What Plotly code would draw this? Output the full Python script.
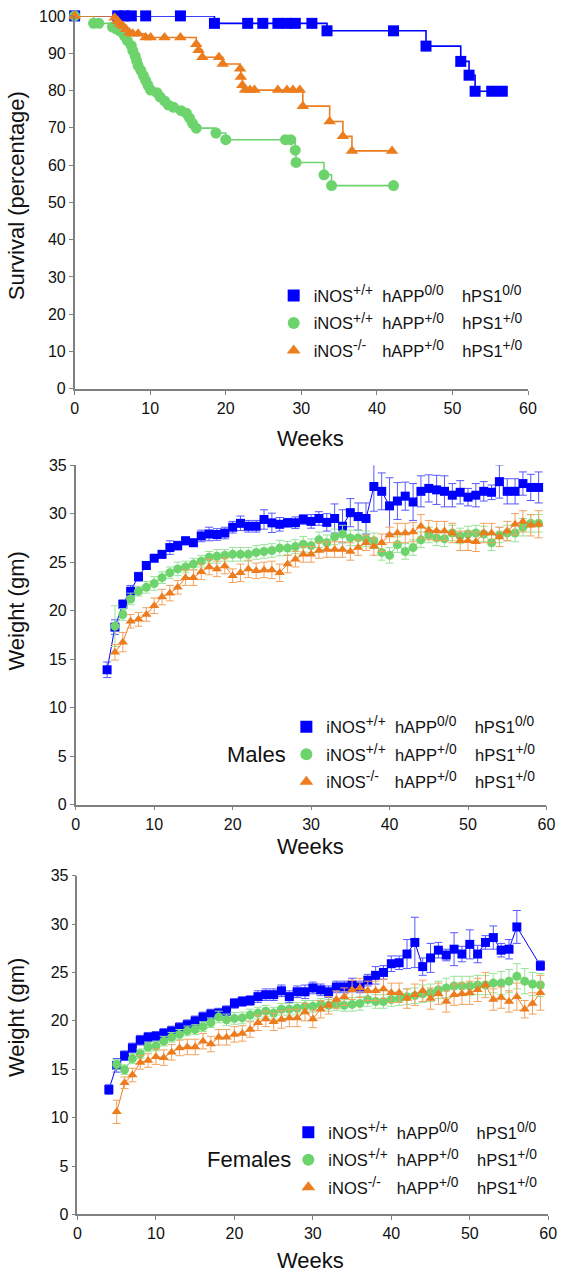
import plotly.graph_objects as go

# ------------------------------------------------------------------ data
# Panel 1: Kaplan-Meier survival (weeks, percent surviving)
surv_blue_weeks = [0, 5.7, 6.6, 7.5, 9.4, 14.0, 18.5, 22.9, 24.9, 26.9, 28.1, 29.2, 31.4,
                   33.4, 42.2, 46.5, 51.1, 52.2, 53.0, 55.2, 56.6]
surv_blue_pct = [100, 100, 100, 100, 100, 100, 98.0, 98.0, 98.0, 98.0, 98.0, 98.0, 98.0,
                 96.0, 96.0, 91.9, 87.8, 84.1, 79.8, 79.8, 79.8]

surv_green_weeks = [0, 2.5, 3.2, 5.0, 5.5, 6.0, 6.6, 7.0, 7.5, 7.7, 8.0, 8.2, 8.4, 8.75,
                    9.1, 9.4, 9.7, 10.05, 10.9, 11.3, 11.9, 12.4, 13.1, 14.1, 14.8, 15.2,
                    15.6, 16.1, 18.7, 20.0, 27.9, 28.6, 29.2, 29.3, 33.0, 34.0, 42.2]
surv_green_pct = [100, 98.0, 98.0, 97.0, 96.5, 95.9, 94.6, 93.3, 92.0, 90.7, 89.3, 88.0,
                  86.7, 85.4, 84.0, 82.7, 81.4, 80.1, 79.4, 78.3, 77.2, 76.1, 75.5, 74.6,
                  73.9, 72.6, 71.2, 69.9, 68.6, 66.8, 66.8, 66.8, 64.0, 60.7, 57.4, 54.5, 54.5]

surv_orange_weeks = [0, 5.3, 5.7, 6.0, 6.4, 6.8, 7.25, 7.7, 8.4, 9.4, 10.05, 11.9, 14.0,
                     16.1, 16.4, 16.9, 19.1, 19.6, 21.9, 22.0, 22.2, 22.55, 23.2, 23.8,
                     26.9, 28.1, 28.9, 29.8, 30.2, 33.75, 35.5, 36.7, 42.0]
surv_orange_pct = [100, 99.5, 98.6, 97.8, 97.3, 96.4, 95.5, 95.2, 95.2, 94.2, 94.2, 94.2,
                   94.2, 92.4, 90.8, 88.9, 88.9, 87.1, 85.8, 83.6, 81.4, 80.1, 80.1, 80.1,
                   80.1, 80.1, 80.1, 80.1, 75.8, 71.7, 67.7, 63.8, 63.8]

# Panel 2: Males, weight (gm) mean and error
male_blue_weeks = [4, 5, 6, 7, 8, 9, 10, 11, 12, 13, 14, 15, 16, 17, 18, 19, 20, 21, 22, 23,
                   24, 25, 26, 27, 28, 29, 30, 31, 32, 33, 34, 35, 36, 37, 38, 39, 40, 41,
                   42, 43, 44, 45, 46, 47, 48, 49, 50, 51, 52, 53, 54, 55, 56, 57, 58, 59]
male_blue_wt = [13.9, 18.3, 20.65, 22.0, 23.5, 24.65, 25.4, 25.8, 26.5, 26.7,
                27.2, 27.0, 27.7, 27.9, 27.85, 28.0, 28.6, 29.0, 28.7, 28.7,
                29.4, 29.05, 28.9, 29.06, 29.06, 29.4, 29.2, 29.5, 29.1, 29.5,
                28.7, 30.1, 29.7, 29.5, 32.8, 32.3, 30.8, 31.3, 31.8, 31.2,
                32.3, 32.6, 32.45, 32.3, 31.9, 32.2, 31.7, 31.9, 32.3, 32.2,
                33.3, 32.3, 32.3, 33.1, 32.7, 32.7]
male_blue_err = [0.8, 0.75, 0.45, 0.6, 0.45, 0.4, 0.35, 0.35, 0.7, 0.45,
                 0.4, 0.35, 0.6, 0.7, 0.6, 0.6, 0.6, 0.75, 0.6, 0.6,
                 1.0, 1.0, 0.7, 0.45, 0.6, 0.5, 0.7, 0.7, 0.9, 1.5,
                 1.7, 1.45, 1.4, 1.6, 2.55, 1.9, 2.9, 1.9, 1.45, 1.9,
                 1.6, 1.4, 1.5, 1.6, 1.2, 1.2, 0.9, 1.2, 1.0, 0.75,
                 1.7, 1.3, 1.3, 1.2, 1.35, 1.6]

male_green_weeks = [5, 6, 7, 8, 9, 10, 11, 12, 13, 14, 15, 16, 17, 18, 19, 20, 21, 22, 23, 24,
                    25, 26, 27, 28, 29, 30, 31, 32, 33, 34, 35, 36, 37, 38, 39, 40, 41, 42,
                    43, 44, 45, 46, 47, 48, 49, 50, 51, 52, 53, 54, 55, 56, 57, 58, 59]
male_green_wt = [18.4, 19.6, 21.2, 22.0, 22.4, 22.8, 23.4, 23.9, 24.3, 24.5,
                 24.8, 25.1, 25.5, 25.6, 25.7, 25.8, 25.8, 25.8, 26.0, 26.1,
                 26.2, 26.45, 26.45, 26.6, 26.85, 26.7, 27.3, 27.0, 27.6, 27.9,
                 27.5, 27.5, 27.4, 27.2, 26.0, 25.7, 26.8, 26.1, 26.5, 27.3,
                 27.8, 27.5, 27.4, 28.0, 27.7, 27.9, 28.0, 27.9, 27.0, 27.8,
                 28.0, 28.0, 28.6, 29.0, 29.0]
male_green_err = [2.1, 0.6, 0.6, 0.5, 0.6, 0.7, 0.6, 0.6, 0.7, 0.6,
                  0.6, 0.6, 0.6, 0.7, 0.6, 0.7, 0.7, 0.7, 0.7, 0.7,
                  0.7, 0.8, 0.7, 0.7, 0.8, 0.7, 0.8, 0.8, 0.8, 0.9,
                  0.8, 0.8, 0.8, 0.8, 0.8, 0.8, 0.8, 0.8, 0.8, 0.8,
                  0.8, 0.8, 0.8, 0.8, 0.8, 0.8, 0.8, 0.8, 0.8, 0.8,
                  0.8, 0.9, 0.9, 0.9, 0.9]

male_orange_weeks = [5, 6, 7, 8, 9, 10, 11, 12, 13, 14, 15, 16, 17, 18, 19, 20, 21, 22, 23, 24,
                     25, 26, 27, 28, 29, 30, 31, 32, 33, 34, 35, 36, 37, 38, 39, 40, 41, 42,
                     43, 44, 45, 46, 47, 48, 49, 50, 51, 52, 53, 54, 55, 56, 57, 58, 59]
male_orange_wt = [15.7, 16.75, 18.9, 19.1, 19.6, 20.5, 21.4, 21.8, 22.4, 23.4,
                  23.4, 24.0, 24.5, 24.3, 24.6, 23.6, 23.9, 24.3, 24.1, 24.2,
                  24.2, 23.9, 24.8, 25.3, 25.8, 25.8, 26.2, 26.3, 26.3, 26.3,
                  26.1, 26.5, 27.0, 26.6, 27.0, 27.8, 28.0, 28.0, 28.1, 28.7,
                  28.3, 28.2, 28.2, 28.0, 27.2, 27.2, 27.1, 28.0, 28.0, 27.6,
                  28.2, 28.9, 29.2, 28.8, 28.9]
male_orange_err = [0.8, 1.0, 0.7, 0.7, 0.7, 0.8, 0.8, 0.8, 0.7, 0.8,
                   0.8, 0.8, 0.8, 0.8, 0.8, 0.7, 0.9, 0.9, 0.8, 0.8,
                   0.9, 0.9, 0.9, 0.8, 0.8, 0.8, 0.8, 0.8, 0.8, 0.8,
                   0.9, 0.8, 0.8, 0.9, 0.9, 0.8, 1.0, 1.0, 1.0, 1.2,
                   1.0, 1.0, 1.0, 1.0, 1.0, 1.0, 1.0, 1.0, 1.0, 1.0,
                   1.0, 1.1, 1.1, 1.1, 1.4]

# Panel 3: Females, weight (gm) mean and error
female_blue_weeks = [4, 5, 6, 7, 8, 9, 10, 11, 12, 13, 14, 15, 16, 17, 18, 19, 20, 21, 22,
                     23, 24, 25, 26, 27, 28, 29, 30, 31, 32, 33, 34, 35, 36, 37, 38, 39, 40,
                     41, 42, 43, 44, 45, 46, 47, 48, 49, 50, 51, 52, 53, 54, 55, 56, 59]
female_blue_wt = [12.9, 15.4, 16.4, 17.2, 18.0, 18.3, 18.4, 18.7, 18.95, 19.3,
                  19.6, 20.0, 20.4, 20.7, 20.8, 21.05, 21.8, 22.0, 22.1, 22.5,
                  22.7, 22.7, 23.1, 22.5, 23.0, 23.0, 23.4, 23.2, 23.0, 23.5,
                  23.5, 23.7, 23.5, 24.2, 24.7, 25.0, 25.9, 26.0, 26.9, 28.1,
                  25.6, 26.5, 27.3, 26.8, 27.4, 26.9, 27.9, 26.9, 28.1, 28.6,
                  27.3, 27.4, 29.7, 25.7]
female_blue_err = [0.5, 0.7, 0.5, 0.5, 0.5, 0.5, 0.5, 0.5, 0.5, 0.5,
                   0.5, 0.5, 0.5, 0.5, 0.5, 0.5, 0.5, 0.5, 0.5, 0.6,
                   0.6, 0.6, 0.6, 0.6, 0.6, 0.7, 0.6, 0.6, 0.6, 0.6,
                   0.6, 0.7, 0.6, 0.6, 0.9, 0.7, 0.8, 0.7, 1.5, 2.6,
                   0.9, 1.5, 0.8, 0.6, 1.7, 0.8, 1.5, 0.9, 0.7, 1.2,
                   0.7, 1.0, 1.7, 0.5]

female_green_weeks = [5, 6, 7, 8, 9, 10, 11, 12, 13, 14, 15, 16, 17, 18, 19, 20, 21, 22, 23,
                      24, 25, 26, 27, 28, 29, 30, 31, 32, 33, 34, 35, 36, 37, 38, 39, 40, 41,
                      42, 43, 44, 45, 46, 47, 48, 49, 50, 51, 52, 53, 54, 55, 56, 57, 58, 59]
female_green_wt = [15.5, 14.95, 16.1, 16.6, 17.3, 17.4, 17.9, 18.3, 18.6, 18.96,
                   19.1, 19.4, 19.8, 20.4, 20.1, 20.25, 20.3, 20.6, 20.8, 21.0,
                   20.8, 21.2, 21.2, 21.3, 21.5, 21.5, 21.7, 21.6, 21.7, 21.6,
                   21.7, 21.8, 22.2, 22.0, 22.0, 22.2, 22.3, 22.5, 22.6, 22.8,
                   22.9, 23.2, 23.4, 23.6, 23.6, 23.6, 23.7, 23.7, 23.9, 23.9,
                   24.1, 24.6, 24.1, 23.8, 23.7]
female_green_err = [0.5, 0.5, 0.5, 0.5, 0.5, 0.5, 0.5, 0.5, 0.5, 0.5,
                    0.5, 0.5, 0.5, 0.6, 0.6, 0.6, 0.6, 0.6, 0.6, 0.6,
                    0.6, 0.6, 0.6, 0.6, 0.6, 0.6, 0.6, 0.6, 0.6, 0.6,
                    0.7, 0.7, 0.7, 0.7, 0.7, 0.7, 0.7, 0.8, 0.8, 0.9,
                    0.9, 0.9, 1.0, 1.0, 1.0, 1.0, 1.0, 1.0, 1.0, 1.2,
                    1.2, 1.3, 1.3, 1.2, 1.2]

female_orange_weeks = [5, 6, 7, 8, 9, 10, 11, 12, 13, 14, 15, 16, 17, 18, 19, 20, 21, 22, 23,
                       24, 25, 26, 27, 28, 29, 30, 31, 32, 33, 34, 35, 36, 37, 38, 39, 40, 41,
                       42, 43, 44, 45, 46, 47, 48, 49, 50, 51, 52, 53, 54, 55, 56, 57, 58, 59]
female_orange_wt = [10.6, 13.6, 14.4, 15.7, 15.9, 16.3, 16.2, 16.75, 17.2, 17.3,
                    17.3, 17.9, 17.6, 18.3, 18.3, 18.6, 18.7, 19.1, 19.8, 20.2,
                    19.9, 20.15, 20.3, 20.3, 20.9, 20.2, 21.2, 21.6, 22.2, 22.5,
                    23.2, 23.4, 23.1, 23.1, 23.3, 22.9, 22.9, 22.3, 22.7, 23.1,
                    22.3, 22.8, 22.0, 22.7, 22.8, 22.9, 23.2, 23.7, 22.2, 22.4,
                    22.0, 22.5, 21.2, 21.8, 22.9]
female_orange_err = [1.2, 0.6, 0.7, 0.7, 0.7, 0.8, 0.8, 0.8, 0.8, 0.8,
                     0.8, 0.8, 0.8, 0.8, 0.8, 0.8, 0.8, 0.8, 0.8, 0.8,
                     0.9, 0.9, 0.9, 0.9, 0.9, 0.9, 0.9, 0.9, 0.9, 0.9,
                     1.0, 1.0, 1.0, 1.0, 1.0, 1.0, 1.0, 1.0, 1.1, 1.1,
                     1.1, 1.1, 1.1, 1.1, 1.1, 1.2, 1.2, 1.3, 1.1, 1.1,
                     1.1, 1.4, 0.9, 1.1, 1.8]

# legend labels (genotypes): gene name and superscript allele state
genotype_parts = [
    [("iNOS", "+/+"), ("hAPP", "0/0"), ("hPS1", "0/0")],
    [("iNOS", "+/+"), ("hAPP", "+/0"), ("hPS1", "+/0")],
    [("iNOS", "-/-"), ("hAPP", "+/0"), ("hPS1", "+/0")],
]
x_tick_values = [0, 10, 20, 30, 40, 50, 60]
surv_tick_values = [0, 10, 20, 30, 40, 50, 60, 70, 80, 90, 100]
weight_tick_values = [0, 5, 10, 15, 20, 25, 30, 35]

# ------------------------------------------------------------------ style
W, H = 567, 1280
FONT = "Liberation Sans, Arial, Helvetica, sans-serif"
BLUE, GREEN, ORANGE = "#0000ff", "#6dd46d", "#ec7c1e"
BLUE_E, GREEN_E, ORANGE_E = "#5858ff", "#98e398", "#f2a25e"
AXIS_GREY = "#808080"
TXT = "#111111"
LEG_SIZE = 16.5
SUP_SIZE = 13.8
NB = "\u00a0"
THIN = "<span style='font-size:8px'>\u00a0</span>"


def fx(p):
    return p / W


def fy(p):
    return 1 - p / H


def genotype_label(parts):
    first_gap = NB * 3 + THIN if parts[0][1] == "-/-" else NB * 2
    gaps = [first_gap, NB * 4]
    out = ""
    for i, (gene, state) in enumerate(parts):
        out += f"{gene}<sup><span style='font-size:{SUP_SIZE}px'>{state}</span></sup>"
        if i < len(gaps):
            out += gaps[i]
    return out


genotype_labels = [genotype_label(p) for p in genotype_parts]

fig = go.Figure()


def add_series(x, y, err, color, ecolor, symbol, size, name, xa, ya, legend, group, shape, lw):
    fig.add_trace(go.Scatter(
        x=x, y=y, mode="lines", line=dict(color=color, width=lw, shape=shape),
        xaxis=xa, yaxis=ya, showlegend=False, hoverinfo="skip", cliponaxis=False))
    kw = {}
    if err is not None:
        kw["error_y"] = dict(type="data", array=err, visible=True, color=ecolor,
                             thickness=1, width=4)
    fig.add_trace(go.Scatter(
        x=x, y=y, mode="markers", name=name,
        marker=dict(symbol=symbol, size=size, color=color, line=dict(width=0)),
        xaxis=xa, yaxis=ya, legend=legend, legendgroup=group, cliponaxis=False, **kw))


# Panel 1
add_series(surv_blue_weeks, surv_blue_pct, None, BLUE, BLUE_E, "square", 11,
           genotype_labels[0], "x", "y", "legend", "a1", "hv", 1.6)
add_series(surv_green_weeks, surv_green_pct, None, GREEN, GREEN_E, "circle", 11,
           genotype_labels[1], "x", "y", "legend", "b1", "hv", 1.6)
add_series(surv_orange_weeks, surv_orange_pct, None, ORANGE, ORANGE_E, "triangle-up", 11,
           genotype_labels[2], "x", "y", "legend", "c1", "hv", 1.6)
# Panel 2
add_series(male_blue_weeks, male_blue_wt, male_blue_err, BLUE, BLUE_E, "square", 9,
           genotype_labels[0], "x2", "y2", "legend2", "a2", "linear", 1)
add_series(male_green_weeks, male_green_wt, male_green_err, GREEN, GREEN_E, "circle", 9,
           genotype_labels[1], "x2", "y2", "legend2", "b2", "linear", 1)
add_series(male_orange_weeks, male_orange_wt, male_orange_err, ORANGE, ORANGE_E, "triangle-up", 9,
           genotype_labels[2], "x2", "y2", "legend2", "c2", "linear", 1)
# Panel 3
add_series(female_blue_weeks, female_blue_wt, female_blue_err, BLUE, BLUE_E, "square", 9,
           genotype_labels[0], "x3", "y3", "legend3", "a3", "linear", 1)
add_series(female_green_weeks, female_green_wt, female_green_err, GREEN, GREEN_E, "circle", 9,
           genotype_labels[1], "x3", "y3", "legend3", "b3", "linear", 1)
add_series(female_orange_weeks, female_orange_wt, female_orange_err, ORANGE, ORANGE_E, "triangle-up", 9,
           genotype_labels[2], "x3", "y3", "legend3", "c3", "linear", 1)

axis_common = dict(showline=True, linecolor=AXIS_GREY, linewidth=1.5, ticks="outside",
                   ticklen=4, tickwidth=1, tickcolor=AXIS_GREY, showgrid=False,
                   zeroline=False, tickfont=dict(family=FONT, size=16, color=TXT),
                   ticklabeloverflow="allow", fixedrange=True)


def legend_cfg(left_px, top_px):
    return dict(x=fx(left_px), y=fy(top_px), xanchor="left", yanchor="top",
                bgcolor="rgba(0,0,0,0)", borderwidth=0, tracegroupgap=3,
                traceorder="grouped", itemsizing="constant",
                font=dict(family=FONT, size=LEG_SIZE, color=TXT),
                itemclick=False, itemdoubleclick=False)


fig.update_layout(
    width=W, height=H, margin=dict(l=0, r=0, t=0, b=0),
    paper_bgcolor="white", plot_bgcolor="white", showlegend=True,
    font=dict(family=FONT, color=TXT),
    xaxis=dict(domain=[fx(72.3), fx(536.3)], range=[0, 60], tickvals=x_tick_values,
               anchor="y", **axis_common),
    yaxis=dict(domain=[fy(386), fy(8)], range=[0, 100], tickvals=surv_tick_values,
               anchor="x", **axis_common),
    xaxis2=dict(domain=[fx(73.4), fx(555.2)], range=[0, 60], tickvals=x_tick_values,
                anchor="y2", **axis_common),
    yaxis2=dict(domain=[fy(807.3), fy(463.3)], range=[0, 35], tickvals=weight_tick_values,
                anchor="x2", **axis_common),
    xaxis3=dict(domain=[fx(75.2), fx(557)], range=[0, 60], tickvals=x_tick_values,
                anchor="y3", **axis_common),
    yaxis3=dict(domain=[fy(1222.7), fy(879.3)], range=[0, 35], tickvals=weight_tick_values,
                anchor="x3", **axis_common),
    legend=legend_cfg(276, 274),
    legend2=legend_cfg(289, 711),
    legend3=legend_cfg(291, 1122),
)

ann = []
title_font = dict(family=FONT, size=22, color=TXT)
for y_px in (436, 850, 1269):
    ann.append(dict(text="Weeks", x=fx(314), y=fy(y_px), xref="paper", yref="paper",
                    xanchor="center", yanchor="middle", showarrow=False, font=title_font))
ann.append(dict(text="Survival (percentage)", x=fx(13), y=fy(190), xref="paper", yref="paper",
                xanchor="center", yanchor="middle", showarrow=False, textangle=-90,
                font=title_font))
ann.append(dict(text="Weight (gm)", x=fx(13), y=fy(611), xref="paper", yref="paper",
                xanchor="center", yanchor="middle", showarrow=False, textangle=-90,
                font=title_font))
ann.append(dict(text="Weight (gm)", x=fx(13), y=fy(1023), xref="paper", yref="paper",
                xanchor="center", yanchor="middle", showarrow=False, textangle=-90,
                font=title_font))
ann.append(dict(text="Males", x=fx(291), y=fy(757), xref="paper", yref="paper",
                xanchor="right", yanchor="middle", showarrow=False, font=title_font))
ann.append(dict(text="Females", x=fx(296), y=fy(1167), xref="paper", yref="paper",
                xanchor="right", yanchor="middle", showarrow=False, font=title_font))
fig.update_layout(annotations=ann)

# the page body has a default 8px margin; remove it so the figure fills the window
fig.write_html("out.html", config={"displayModeBar": False},
               post_script="document.body.style.margin='0px';")
